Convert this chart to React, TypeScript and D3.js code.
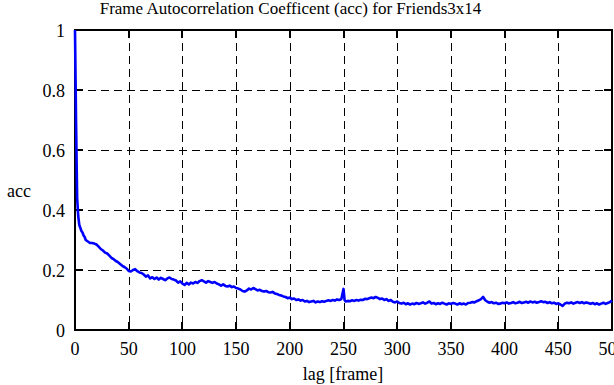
import { useEffect, useRef } from 'react';
import * as d3 from 'd3';

// --- Data ---
const lags: number[] = [
    0, 1, 2, 3, 4, 5, 6, 7, 8, 9, 10, 12, 14, 16, 18, 20, 22, 24, 26, 28, 30, 32, 34, 36, 38, 40, 42, 44, 46, 48,
    50, 52, 54, 56, 58, 60, 62, 64, 66, 68, 70, 72, 74, 76, 78, 80, 82, 84, 86, 88, 90, 92, 94, 96, 98,
    100, 102, 104, 106, 108, 110, 112, 114, 116, 118, 120, 122, 124, 126, 128, 130, 132, 134, 136, 138, 140, 142, 144, 146, 148,
    150, 152, 154, 156, 158, 160, 162, 164, 166, 168, 170, 172, 174, 176, 178, 180, 182, 184, 186, 188, 190, 192, 194, 196, 198,
    200, 202, 204, 206, 208, 210, 212, 214, 216, 218, 220, 222, 224, 226, 228, 230, 232, 234, 236, 238, 240, 242, 244, 246, 248,
    250, 251, 252, 254, 256, 258, 260, 262, 264, 266, 268, 270, 272, 274, 276, 278, 280, 282, 284, 286, 288, 290, 292, 294, 296, 298,
    300, 302, 304, 306, 308, 310, 312, 314, 316, 318, 320, 322, 324, 326, 328, 330, 332, 334, 336, 338, 340, 342, 344, 346, 348,
    350, 352, 354, 356, 358, 360, 362, 364, 366, 368, 370, 372, 374, 376, 378, 380, 382, 384, 386, 388, 390, 392, 394, 396, 398,
    400, 402, 404, 406, 408, 410, 412, 414, 416, 418, 420, 422, 424, 426, 428, 430, 432, 434, 436, 438, 440, 442, 444, 446, 448,
    450, 452, 454, 456, 458, 460, 462, 464, 466, 468, 470, 472, 474, 476, 478, 480, 482, 484, 486, 488, 490, 492, 494, 496, 498, 500
];

const accValues: number[] = [
    1.0, 0.69, 0.44, 0.38, 0.35, 0.34, 0.33, 0.325, 0.315, 0.31, 0.30, 0.295, 0.29, 0.29, 0.288, 0.285, 0.278, 0.27, 0.265, 0.258,
    0.255, 0.248, 0.24, 0.236, 0.23, 0.226, 0.22, 0.214, 0.21, 0.205,
    0.197, 0.195, 0.2, 0.203, 0.196, 0.192, 0.19, 0.185, 0.178, 0.182, 0.172, 0.176, 0.17, 0.175, 0.168, 0.174, 0.17, 0.166, 0.172, 0.175,
    0.17, 0.168, 0.165, 0.158, 0.162,
    0.155, 0.15, 0.157, 0.152, 0.158, 0.155, 0.16, 0.157, 0.163, 0.166, 0.162, 0.158, 0.163, 0.16, 0.157, 0.16, 0.155, 0.152, 0.148, 0.152,
    0.147, 0.145, 0.148, 0.143, 0.145,
    0.14, 0.138, 0.135, 0.13, 0.128, 0.132, 0.138, 0.135, 0.14, 0.136, 0.132, 0.134, 0.13, 0.128, 0.13, 0.126, 0.125, 0.127, 0.122, 0.12,
    0.117, 0.115, 0.112, 0.11, 0.106,
    0.108, 0.103, 0.105, 0.1, 0.102, 0.098, 0.1, 0.095, 0.097, 0.093, 0.095, 0.097, 0.092, 0.095, 0.093, 0.096, 0.094, 0.097, 0.099, 0.097,
    0.1, 0.098, 0.102, 0.1, 0.103,
    0.137, 0.1, 0.095, 0.097, 0.096, 0.099, 0.097, 0.1, 0.098, 0.101, 0.1, 0.104, 0.103, 0.106, 0.108, 0.106, 0.11, 0.107, 0.103, 0.105,
    0.1, 0.103, 0.097, 0.1, 0.094, 0.092,
    0.095, 0.09, 0.088, 0.091, 0.086, 0.089, 0.085, 0.088, 0.086, 0.09, 0.087, 0.089, 0.092, 0.088, 0.091, 0.095, 0.088, 0.09, 0.086, 0.089,
    0.087, 0.091, 0.088, 0.085, 0.089,
    0.087, 0.09, 0.088, 0.085, 0.089, 0.086, 0.088, 0.085, 0.09, 0.091, 0.093, 0.092, 0.096, 0.099, 0.103, 0.11, 0.099, 0.094, 0.091, 0.093,
    0.089, 0.091, 0.087, 0.088, 0.091,
    0.089, 0.092, 0.088, 0.09, 0.093, 0.089, 0.091, 0.094, 0.09, 0.092, 0.094, 0.091, 0.095, 0.092, 0.094, 0.091, 0.093, 0.096, 0.093, 0.094,
    0.09, 0.093, 0.089, 0.091, 0.087,
    0.089, 0.085, 0.08, 0.088, 0.091, 0.089, 0.092, 0.088, 0.091, 0.093, 0.09, 0.093, 0.089, 0.092, 0.09, 0.087, 0.09, 0.086, 0.089, 0.085,
    0.088, 0.091, 0.087, 0.09, 0.093, 0.098
];

const xTicks = [0, 50, 100, 150, 200, 250, 300, 350, 400, 450, 500];
const yTicks = [0, 0.2, 0.4, 0.6, 0.8, 1];

const titleText = 'Frame Autocorrelation Coefficent (acc) for Friends3x14';
const xLabel = 'lag [frame]';
const yLabel = 'acc';

const W = 614;
const H = 385;
const FONT = "'Liberation Serif', 'DejaVu Serif', 'Noto Serif', 'Times New Roman', Times, serif";

const App = () => {
    const svgRef = useRef<SVGSVGElement>(null);

    useEffect(() => {
        if (!svgRef.current) return;
        const svg = d3.select(svgRef.current);
        svg.selectAll('*').remove();

        const left = 75, right = 612, top = 30, bottom = 330;
        const x = d3.scaleLinear().domain([0, 500]).range([left, right]);
        const y = d3.scaleLinear().domain([0, 1]).range([bottom, top]);

        // grid
        const grid = svg.append('g')
            .attr('stroke', '#000').attr('stroke-width', 1)
            .attr('stroke-dasharray', '8,5')
            .attr('shape-rendering', 'crispEdges');
        grid.selectAll('line.v')
            .data(xTicks.filter(t => t > 0 && t < 500))
            .join('line')
            .attr('x1', d => Math.round(x(d)) + 0.5).attr('x2', d => Math.round(x(d)) + 0.5)
            .attr('y1', top).attr('y2', bottom);
        grid.selectAll('line.h')
            .data(yTicks.filter(t => t > 0 && t < 1))
            .join('line')
            .attr('y1', d => Math.round(y(d)) + 0.5).attr('y2', d => Math.round(y(d)) + 0.5)
            .attr('x1', left).attr('x2', right);

        // ticks (inward, all four sides)
        const ticks = svg.append('g').attr('stroke', '#000').attr('stroke-width', 2).attr('shape-rendering', 'crispEdges');
        const tl = 8;
        xTicks.forEach(t => {
            const px = Math.round(x(t));
            ticks.append('line').attr('x1', px).attr('x2', px).attr('y1', bottom).attr('y2', bottom - tl);
            ticks.append('line').attr('x1', px).attr('x2', px).attr('y1', top).attr('y2', top + tl);
        });
        yTicks.forEach(t => {
            const py = Math.round(y(t));
            ticks.append('line').attr('y1', py).attr('y2', py).attr('x1', left).attr('x2', left + tl);
            ticks.append('line').attr('y1', py).attr('y2', py).attr('x1', right).attr('x2', right - tl);
        });

        // frame
        svg.append('rect')
            .attr('x', left).attr('y', top)
            .attr('width', right - left).attr('height', bottom - top)
            .attr('fill', 'none').attr('stroke', '#000').attr('stroke-width', 2)
            .attr('shape-rendering', 'crispEdges');

        // curve
        const line = d3.line<number>()
            .x((_, i) => x(lags[i]))
            .y(d => y(d));
        svg.append('path')
            .datum(accValues)
            .attr('d', line)
            .attr('fill', 'none')
            .attr('stroke', '#0000ff')
            .attr('stroke-width', 2.6)
            .attr('stroke-linejoin', 'round');

        const txt = (sel: d3.Selection<any, any, any, any>, size: number) =>
            sel.style('font-family', FONT).style('font-size', `${size}px`).attr('fill', '#000');

        // tick labels
        txt(svg.append('g').selectAll('text')
            .data(xTicks)
            .join('text')
            .attr('x', d => x(d)).attr('y', 355)
            .attr('text-anchor', 'middle')
            .text(d => String(d)), 18);
        txt(svg.append('g').selectAll('text')
            .data(yTicks)
            .join('text')
            .attr('x', 65).attr('y', d => y(d) + 6.5)
            .attr('text-anchor', 'end')
            .text(d => String(d)), 18);

        // titles
        txt(svg.append('text')
            .attr('x', 290.5).attr('y', 14)
            .attr('text-anchor', 'middle')
            .text(titleText), 17);
        txt(svg.append('text')
            .attr('x', 343).attr('y', 380)
            .attr('text-anchor', 'middle')
            .text(xLabel), 18);
        txt(svg.append('text')
            .attr('x', 19).attr('y', 197)
            .attr('text-anchor', 'middle')
            .text(yLabel), 18);
    }, []);

    return (
        <svg
            ref={svgRef}
            width={W}
            height={H}
            style={{ position: 'absolute', top: 0, left: 0, background: '#fff' }}
        />
    );
};

export default App;
